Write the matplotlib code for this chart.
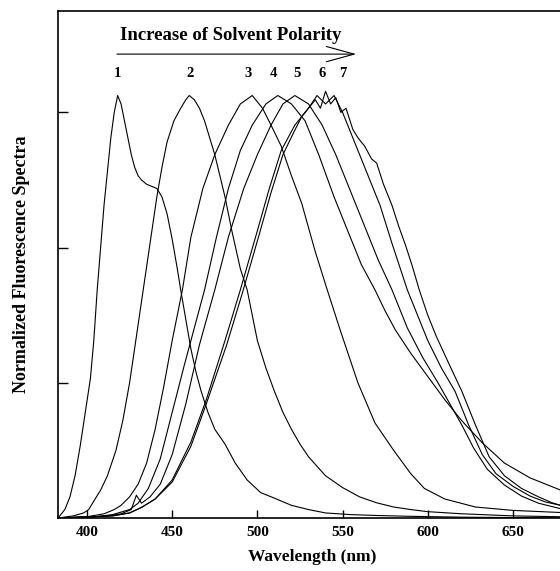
import matplotlib.pyplot as plt

# Emission spectra (wavelength in nm, normalized intensity)
wl1 = [383, 385, 387, 390, 393, 396, 399, 402, 404, 406, 408, 410, 412, 414, 416, 418, 420, 422, 424, 426,
       428, 430, 432, 435, 438, 441, 444, 447, 450, 453, 455, 458, 461, 464, 467, 471, 475, 481, 487, 494,
       502, 510, 520, 530, 540, 555, 570, 590, 620, 650, 678]
v1 = [0.0, 0.01, 0.02, 0.05, 0.10, 0.17, 0.25, 0.33, 0.42, 0.54, 0.64, 0.74, 0.82, 0.90, 0.96, 1.0, 0.98, 0.94, 0.90, 0.86,
      0.83, 0.81, 0.80, 0.79, 0.785, 0.78, 0.76, 0.72, 0.66, 0.59, 0.54, 0.47, 0.40, 0.345, 0.30, 0.25, 0.21, 0.175, 0.13, 0.09,
      0.06, 0.047, 0.03, 0.02, 0.012, 0.008, 0.006, 0.004, 0.002, 0.001, 0.0]

wl2 = [383, 392, 398, 401, 404, 408, 412, 417, 421, 425, 429, 433, 437, 441, 444, 447, 451, 455, 458, 460,
       463, 466, 469, 472, 475, 478, 481, 485, 490, 494, 500, 505, 510, 515, 520, 525, 530, 540, 550, 560,
       570, 580, 590, 600, 620, 650, 678]
v2 = [0.0, 0.005, 0.012, 0.02, 0.04, 0.066, 0.10, 0.16, 0.23, 0.32, 0.43, 0.54, 0.65, 0.76, 0.83, 0.89, 0.94, 0.97, 0.99, 1.0,
      0.99, 0.97, 0.94, 0.90, 0.86, 0.81, 0.76, 0.68, 0.59, 0.54, 0.42, 0.355, 0.30, 0.25, 0.21, 0.175, 0.145, 0.10, 0.072, 0.05,
      0.036, 0.026, 0.02, 0.015, 0.01, 0.005, 0.003]

wl3 = [383, 400, 410, 416, 420, 425, 430, 435, 440, 445, 450, 456, 461, 468, 475, 483, 490, 497, 503, 508,
       514, 520, 526, 534, 541, 549, 559, 569, 580, 590, 598, 610, 628, 650, 678]
v3 = [0.0, 0.003, 0.01, 0.02, 0.03, 0.05, 0.08, 0.13, 0.21, 0.31, 0.42, 0.54, 0.665, 0.78, 0.86, 0.93, 0.98, 1.0, 0.97, 0.93,
      0.88, 0.81, 0.745, 0.63, 0.54, 0.44, 0.32, 0.225, 0.16, 0.105, 0.07, 0.045, 0.026, 0.018, 0.013]

wl4 = [383, 405, 415, 425, 430, 436, 443, 450, 457, 463, 469, 476, 483, 490, 497, 505, 512, 520, 528, 536,
       545, 553, 561, 569, 575, 581, 590, 600, 610, 620, 632, 645, 660, 678]
v4 = [0.0, 0.003, 0.008, 0.02, 0.035, 0.07, 0.14, 0.25, 0.36, 0.45, 0.54, 0.665, 0.78, 0.87, 0.93, 0.98, 1.0, 0.98, 0.94, 0.86,
      0.76, 0.68, 0.60, 0.54, 0.49, 0.445, 0.39, 0.335, 0.28, 0.23, 0.178, 0.13, 0.095, 0.066]

wl5 = [383, 410, 420, 426, 429, 432, 437, 443, 450, 458, 466, 475, 483, 492, 500, 508, 515, 522, 530, 538,
       546, 555, 563, 571, 579, 588, 597, 606, 613, 620, 627, 635, 645, 655, 665, 678]
v5 = [0.0, 0.004, 0.01, 0.02, 0.054, 0.035, 0.05, 0.08, 0.15, 0.27, 0.41, 0.54, 0.665, 0.78, 0.86, 0.93, 0.98, 1.0, 0.98, 0.93,
      0.86, 0.77, 0.69, 0.61, 0.54, 0.45, 0.38, 0.32, 0.27, 0.22, 0.165, 0.115, 0.078, 0.052, 0.035, 0.022]

wl6 = [383, 415, 425, 432, 440, 450, 461, 470, 481, 490, 500, 507, 514, 522, 530, 535, 540, 545, 550, 555,
       565, 572, 579, 588, 600, 608, 616, 624, 632, 640, 650, 660, 669, 678]
v6 = [0.0, 0.005, 0.012, 0.025, 0.045, 0.09, 0.18, 0.28, 0.42, 0.54, 0.68, 0.78, 0.87, 0.93, 0.97, 1.0, 0.98, 1.0, 0.96, 0.91,
      0.81, 0.74, 0.65, 0.54, 0.42, 0.355, 0.30, 0.22, 0.15, 0.105, 0.075, 0.052, 0.038, 0.03]

wl7 = [383, 415, 425, 432, 440, 450, 461, 470, 482, 491, 501, 508, 515, 521, 526, 530, 534, 537, 540, 543,
       546, 549, 552, 556, 559, 563, 567, 570, 574, 579, 583, 587, 591, 595, 600, 605, 613, 620, 628, 636,
       645, 655, 665, 673, 678]
v7 = [0.0, 0.005, 0.012, 0.025, 0.045, 0.085, 0.17, 0.27, 0.41, 0.53, 0.67, 0.77, 0.86, 0.91, 0.95, 0.97, 0.99, 0.97, 1.01, 0.98,
      0.995, 0.96, 0.97, 0.92, 0.90, 0.88, 0.85, 0.84, 0.79, 0.74, 0.69, 0.645, 0.595, 0.54, 0.48, 0.43, 0.36, 0.30, 0.22, 0.145,
      0.10, 0.07, 0.05, 0.036, 0.03]

# curve number labels above the peaks
label_names = ['1', '2', '3', '4', '5', '6', '7']
label_wl = [417.6, 460.4, 494.6, 509.3, 523.4, 538.1, 550.4]

xticks = [400, 450, 500, 550, 600, 650]
yticks = [0.32, 0.64, 0.96]

plt.rcParams['font.family'] = ['Liberation Serif', 'DejaVu Serif']

fig = plt.figure(figsize=(5.6, 5.71), dpi=100)
ax = fig.add_axes([0.1036, 0.0928, 0.8964, 0.8879])

for wl, v in [(wl1, v1), (wl2, v2), (wl3, v3), (wl4, v4), (wl5, v5), (wl6, v6), (wl7, v7)]:
    ax.plot(wl, v, color='black', lw=0.8)

ax.set_xlim(383, 677.6)
ax.set_ylim(0, 1.2)
ax.set_xticks(xticks)
ax.set_xticklabels([str(t) for t in xticks], fontweight='bold', fontsize=11)
ax.set_yticks(yticks)
ax.set_yticklabels([])
ax.tick_params(axis='x', direction='in', length=6, width=1, pad=6)
ax.tick_params(axis='y', direction='in', length=7, width=1)
ax.spines['right'].set_visible(False)
for s in ['left', 'bottom', 'top']:
    ax.spines[s].set_linewidth(1.2)

for name, x in zip(label_names, label_wl):
    ax.text(x, 1.053, name, ha='center', va='center', fontsize=10.5, fontweight='bold')

ax.text(419.4, 1.141, 'Increase of Solvent Polarity', ha='left', va='center', fontsize=13.5, fontweight='bold')
ax.annotate('', xy=(558, 1.098), xytext=(417.6, 1.098),
            arrowprops=dict(arrowstyle='->,head_length=2.0,head_width=0.55', lw=0.8, color='black',
                            shrinkA=0, shrinkB=0))

fig.text(312 / 560, 1 - 557 / 571, 'Wavelength (nm)', ha='center', va='center', fontsize=12.5, fontweight='bold')
fig.text(22 / 560, 1 - 264 / 571, 'Normalized Fluorescence Spectra', ha='center', va='center',
         rotation=90, fontsize=13, fontweight='bold')

fig.savefig('out.png', dpi=100)
